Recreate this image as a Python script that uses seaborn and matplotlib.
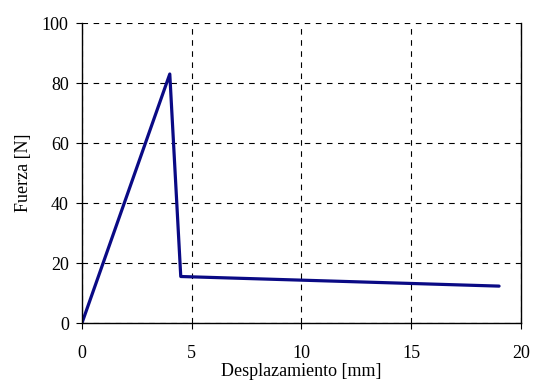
import pandas as pd
import matplotlib
matplotlib.use('Agg')
import matplotlib.pyplot as plt
import seaborn as sns

# datos
desplazamiento = [0.0, 4.0, 4.5, 19.0]
fuerza = [0.0, 83.0, 15.5, 12.3]

df = pd.DataFrame({'Desplazamiento': desplazamiento, 'Fuerza': fuerza})

sns.set_style('ticks')
plt.rcParams['font.family'] = ['Liberation Serif', 'DejaVu Serif']

fig = plt.figure(figsize=(5.33, 3.81), dpi=100)
ax = fig.add_axes([0.1538, 0.1522, 0.8237, 0.7874])

sns.lineplot(data=df, x='Desplazamiento', y='Fuerza', sort=False, ax=ax,
             color='#0a0a85', linewidth=2.3, estimator=None)

ax.set_xlim(0, 20)
ax.set_ylim(0, 100)
ax.set_xticks([0, 5, 10, 15, 20])
ax.set_yticks([0, 20, 40, 60, 80, 100])
ax.grid(True, color='black', linestyle=(0, (5, 5)), linewidth=0.8)
ax.set_axisbelow(True)
ax.spines['top'].set_visible(False)
for s in ['left', 'bottom', 'right']:
    ax.spines[s].set_color('black')
    ax.spines[s].set_linewidth(1.0)
ax.tick_params(axis='both', colors='black', labelsize=13, length=4.5, width=0.8, direction='out')
ax.tick_params(axis='x', pad=11)
ax.tick_params(axis='y', pad=5)
ax.set_xlabel('Desplazamiento [mm]', fontsize=13, color='black', labelpad=1)
ax.set_ylabel('Fuerza [N]', fontsize=13, color='black', labelpad=7)

fig.savefig('out.png', dpi=100)
